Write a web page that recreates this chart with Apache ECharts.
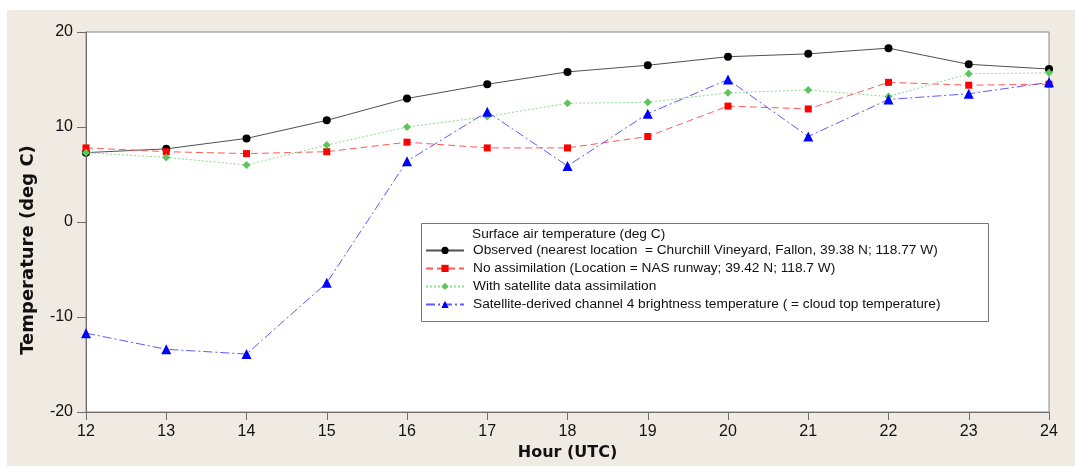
<!DOCTYPE html>
<html>
<head>
<meta charset="utf-8">
<script src="https://cdn.jsdelivr.net/npm/echarts@6/dist/echarts.min.js"></script>
<style>
html,body{margin:0;padding:0;background:#fff;}
#chart{width:1075px;height:466px;}
</style>
</head>
<body>
<div id="chart"></div>
<script>
// hours (UTC)
var hours = [12, 13, 14, 15, 16, 17, 18, 19, 20, 21, 22, 23, 24];
// temperatures, deg C
var observed  = [7.3, 7.7, 8.8, 10.7, 13.0, 14.5, 15.8, 16.5, 17.4, 17.7, 18.3, 16.6, 16.1];
var noAssim   = [7.8, 7.4, 7.2, 7.4, 8.4, 7.8, 7.8, 9.0, 12.2, 11.9, 14.7, 14.4, 14.5];
var satAssim  = [7.3, 6.8, 6.0, 8.1, 10.0, 11.1, 12.5, 12.6, 13.6, 13.9, 13.2, 15.6, 15.7];
var cloudTop  = [-11.7, -13.4, -13.9, -6.4, 6.4, 11.6, 5.9, 11.4, 15.0, 9.0, 12.9, 13.5, 14.7];

var seriesNames = [
	'Observed (nearest location  = Churchill Vineyard, Fallon, 39.38 N; 118.77 W)',
	'No assimilation (Location = NAS runway; 39.42 N; 118.7 W)',
	'With satellite data assimilation',
	'Satellite-derived channel 4 brightness temperature ( = cloud top temperature)'
];
var legendTitle = 'Surface air temperature (deg C)';

function pairs(vals){
	var out = [];
	for(var i in hours){
		out.push([hours[i], vals[i]]);
	}
	return out;
}

var chart = echarts.init(document.getElementById('chart'));
var option = {
	animation: false,
	backgroundColor: '#fff',
	graphic: [
		{ //beige frame
			type: 'rect', z: -10, silent: true,
			shape: {x: 7, y: 10, width: 1068, height: 456},
			style: {fill: '#efebe2'}
		},
		{ //legend box
			type: 'rect', z: 50, silent: true,
			shape: {x: 421.5, y: 223.5, width: 567, height: 98},
			style: {fill: '#fff', stroke: '#777', lineWidth: 1}
		},
		{
			type: 'text', z: 51, silent: true,
			x: 472, y: 234,
			style: {text: legendTitle, fill: '#111', font: '13.7px "Liberation Sans"', verticalAlign: 'middle'}
		},
		{ //y axis title
			type: 'text', silent: true,
			x: 28, y: 250, rotation: Math.PI / 2,
			style: {text: 'Temperature (deg C)', fill: '#111', font: 'bold 18px "DejaVu Sans"', align: 'center', verticalAlign: 'middle'}
		}
	],
	grid: {
		left: 86, right: 26, top: 32, bottom: 54,
		show: true, backgroundColor: '#fff', borderColor: '#888', borderWidth: 1
	},
	legend: {
		orient: 'vertical',
		left: 425, top: 243.4,
		padding: 0,
		itemWidth: 38, itemHeight: 9, itemGap: 4,
		z: 60,
		textStyle: {fontFamily: 'Liberation Sans', fontSize: 13.7, color: '#111', padding: [0, 0, 0, 4]},
		data: seriesNames
	},
	xAxis: {
		type: 'value', min: 12, max: 24, interval: 1,
		name: 'Hour (UTC)', nameLocation: 'middle', nameGap: 33,
		nameTextStyle: {fontFamily: 'DejaVu Sans', fontWeight: 'bold', fontSize: 16, color: '#111'},
		axisLine: {onZero: false, lineStyle: {color: '#6e6e6e'}},
		axisTick: {length: 8, lineStyle: {color: '#6e6e6e'}},
		axisLabel: {margin: 12, fontFamily: 'Liberation Sans', fontSize: 16, color: '#111'},
		splitLine: {show: false}
	},
	yAxis: {
		type: 'value', min: -20, max: 20, interval: 10,
		axisLine: {show: true, onZero: false, lineStyle: {color: '#6e6e6e'}},
		axisTick: {show: true, length: 9, lineStyle: {color: '#6e6e6e'}},
		axisLabel: {margin: 13, fontFamily: 'Liberation Sans', fontSize: 16, color: '#111'},
		splitLine: {show: false}
	},
	series: [
		{
			name: seriesNames[0], type: 'line', data: pairs(observed),
			symbol: 'circle', symbolSize: 8,
			itemStyle: {color: '#000'},
			lineStyle: {color: '#505050', width: 1, type: 'solid'}
		},
		{
			name: seriesNames[1], type: 'line', data: pairs(noAssim),
			symbol: 'rect', symbolSize: 7,
			itemStyle: {color: '#ff0000'},
			lineStyle: {color: '#ff5a5a', width: 1, type: [7, 4]}
		},
		{
			name: seriesNames[2], type: 'line', data: pairs(satAssim),
			symbol: 'diamond', symbolSize: 8,
			itemStyle: {color: '#5cc65c'},
			lineStyle: {color: '#8fdc8f', width: 1, type: [2, 2]}
		},
		{
			name: seriesNames[3], type: 'line', data: pairs(cloudTop),
			symbol: 'triangle', symbolSize: 10,
			itemStyle: {color: '#0000ff'},
			lineStyle: {color: '#5c5cff', width: 1, type: [9, 3, 2, 3]}
		}
	]
};
chart.setOption(option);
</script>
</body>
</html>
